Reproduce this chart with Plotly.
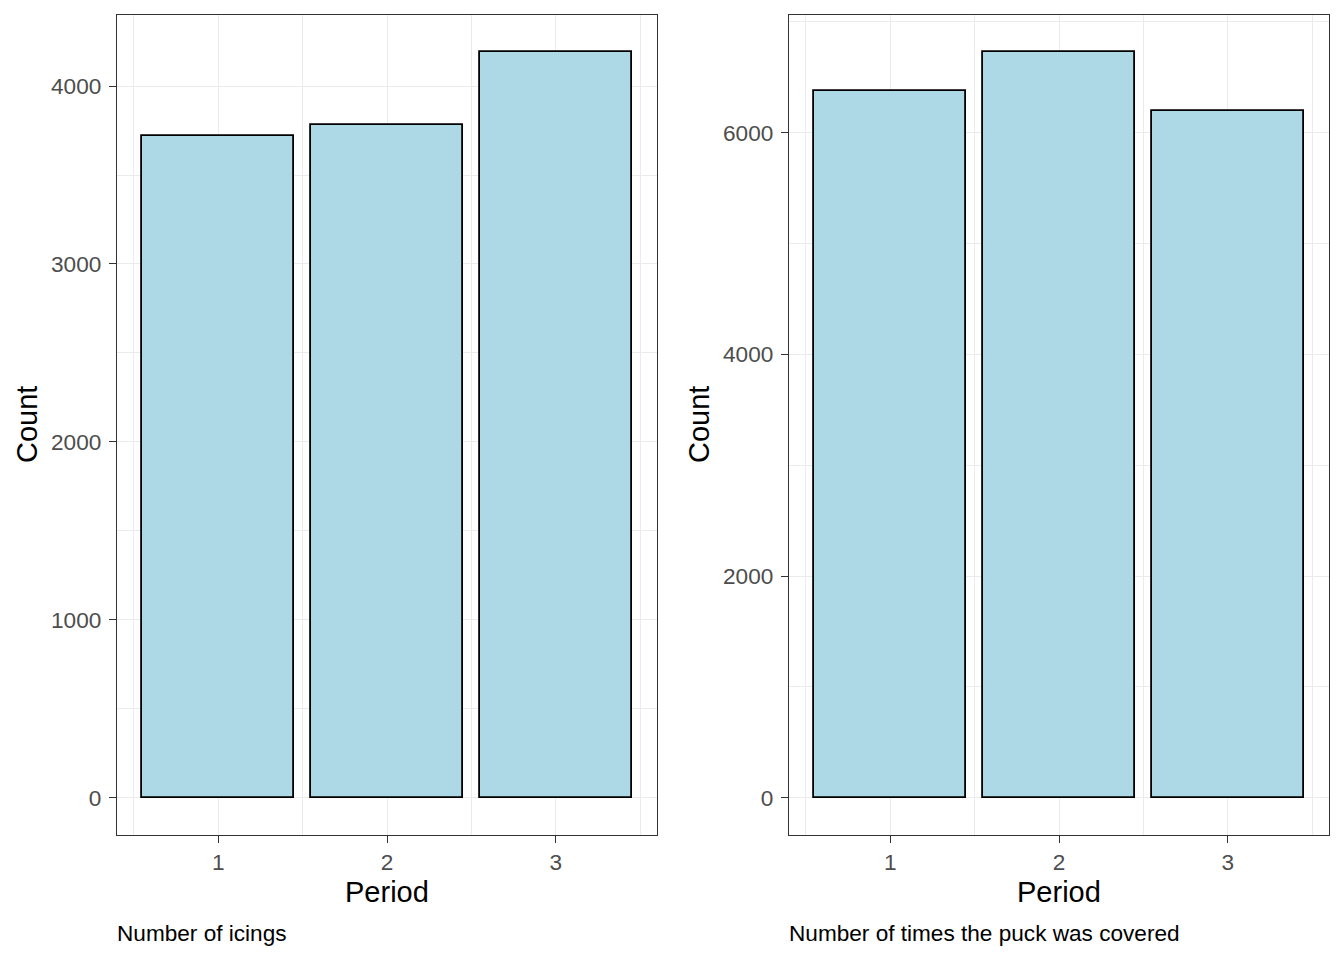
import plotly.graph_objects as go

periods = [1, 2, 3]
icings = [3720, 3780, 4190]
covered = [6378, 6725, 6197]
left_caption = "Number of icings"
right_caption = "Number of times the puck was covered"

FONT = "Liberation Sans, Arial, sans-serif"
OFF = 8  # browser body margin
W, H = 1344 - 2 * OFF, 960 - 2 * OFF

def px(x):
    return (x - OFF) / W

def py(y):
    return (H - (y - OFF)) / H

fig = go.Figure()

def yr(vals):
    lo, hi = 0, max(vals)
    e = (hi - lo) * 0.05
    return [lo - e, hi + e]

panels = [
    dict(vals=icings, xa="x", ya="y", dom=[px(117), px(657)], left=117, cap=left_caption,
         major=[0, 1000, 2000, 3000, 4000], minor=[500, 1500, 2500, 3500, 4500]),
    dict(vals=covered, xa="x2", ya="y2", dom=[px(789), px(1329)], left=789, cap=right_caption,
         major=[0, 2000, 4000, 6000], minor=[1000, 3000, 5000, 7000]),
]

ydom = [py(835), py(15)]

for i, p in enumerate(panels):
    fig.add_trace(go.Bar(
        x=periods, y=p["vals"], xaxis=p["xa"], yaxis=p["ya"], width=0.9,
        marker=dict(color="#ADD8E6", line=dict(color="black", width=1.8)),
        showlegend=False, hoverinfo="x+y"))
    sfx = "" if i == 0 else str(i + 1)
    common = dict(showline=True, mirror=True, linecolor="#333333", linewidth=1.4,
                  ticks="outside", ticklen=7, tickwidth=1.4, tickcolor="#333333",
                  tickfont=dict(family=FONT, size=22.6, color="#4D4D4D"),
                  showgrid=True, gridcolor="#EBEBEB", gridwidth=1.4, zeroline=False)
    fig.layout["xaxis" + sfx] = dict(
        common, domain=p["dom"], anchor="y" + sfx, range=[0.4, 3.6],
        tickmode="array", tickvals=periods, ticktext=[str(v) for v in periods],
        minor=dict(tickvals=[0.5, 1.5, 2.5, 3.5], showgrid=True, gridcolor="#EBEBEB",
                   gridwidth=0.8, ticks=""))
    fig.layout["yaxis" + sfx] = dict(
        common, domain=ydom, anchor="x" + sfx, range=yr(p["vals"]),
        tickmode="array", tickvals=p["major"], ticktext=[str(v) for v in p["major"]],
        ticklabelstandoff=3,
        minor=dict(tickvals=p["minor"], showgrid=True, gridcolor="#EBEBEB",
                   gridwidth=0.8, ticks=""))
    cx = (p["dom"][0] + p["dom"][1]) / 2
    fig.add_annotation(text="Period", x=cx, y=py(892), xref="paper", yref="paper",
                       showarrow=False, xanchor="center", yanchor="middle",
                       font=dict(family=FONT, size=29, color="black"))
    fig.add_annotation(text="Count", x=px(p["left"] - 90), y=(ydom[0] + ydom[1]) / 2,
                       xref="paper", yref="paper", showarrow=False, textangle=-90,
                       xanchor="center", yanchor="middle",
                       font=dict(family=FONT, size=29, color="black"))
    fig.add_annotation(text=p["cap"], x=px(p["left"] - 2), y=py(933), xref="paper", yref="paper",
                       showarrow=False, xanchor="left", yanchor="middle",
                       font=dict(family=FONT, size=22.6, color="black"))

fig.update_layout(width=W, height=H, margin=dict(l=0, r=0, t=0, b=0),
                  paper_bgcolor="white", plot_bgcolor="white", bargap=0)

fig.write_html("out.html")
